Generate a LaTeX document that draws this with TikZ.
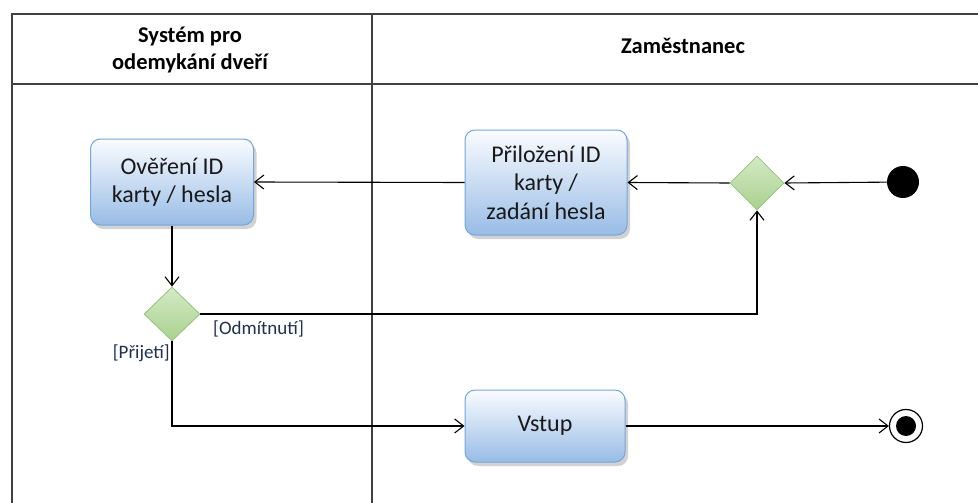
\documentclass[tikz,border=0pt]{standalone}
\usepackage{fontspec}
\setmainfont{Carlito}
\usetikzlibrary{arrows.meta,shapes.geometric,shadows}
\definecolor{frameline}{HTML}{404040}
\definecolor{boxtop}{HTML}{FAFCFF}
\definecolor{boxbottom}{HTML}{98BCE6}
\definecolor{boxedge}{HTML}{74A6DA}
\definecolor{dectop}{HTML}{D4EAC6}
\definecolor{decbottom}{HTML}{A9D18E}
\definecolor{decedge}{HTML}{93C47D}
\definecolor{guardtext}{HTML}{1F3050}
\tikzset{
  action/.style={rectangle, rounded corners=10pt, draw=boxedge, line width=1pt,
    top color=boxtop, bottom color=boxbottom, align=center, text=black!90,
    font=\fontsize{24}{28.5}\selectfont, inner sep=2pt,
    drop shadow={opacity=0.35, shadow xshift=3pt, shadow yshift=-4pt}},
  decision/.style={diamond, draw=decedge, line width=0.8pt,
    top color=dectop, bottom color=decbottom, inner sep=0pt, aspect=1},
  flow/.style={draw=black, line width=1.1pt, -{Straight Barb[length=9pt,width=14pt,line width=1.1pt]}},
  lane/.style={draw=frameline, line width=1.2pt},
  header/.style={font=\bfseries\fontsize{22.5}{27}\selectfont, align=center},
  guard/.style={font=\fontsize{19}{22}\selectfont, text=guardtext, inner sep=0pt}
}
\begin{document}
\begin{tikzpicture}[x=1pt,y=-1pt]
  \useasboundingbox (0,0) rectangle (978,503);
  \fill[white] (0,0) rectangle (978,503);

  % swimlane frame
  \draw[lane] (12,503) -- (12,14) -- (978,14);
  \draw[lane] (12,84) -- (978,84);
  \draw[lane] (372,14) -- (372,503);

  \node[header] (h1) at (190,50) {Systém pro\\odemykání dveří};
  \node[header] (h2) at (683,46) {Zaměstnanec};

  % activities
  \node[action, minimum width=163pt, minimum height=86pt] (ov) at (172,182) {Ověření ID\\karty / hesla};
  \node[action, minimum width=162pt, minimum height=105pt] (pr) at (546,182.5) {Přiložení ID\\karty /\\zadání hesla};
  \node[action, minimum width=160pt, minimum height=72pt] (vs) at (545,426) {Vstup};

  % decisions
  \node[decision, minimum width=54pt, minimum height=54pt] (d1) at (757,183) {};
  \node[decision, minimum width=56pt, minimum height=54pt] (d2) at (172,314) {};

  % initial and final nodes
  \node[circle, fill=black, minimum size=32pt, inner sep=0pt] (start) at (903,182) {};
  \node[circle, draw=black, line width=1.2pt, fill=white, minimum size=33pt, inner sep=0pt] (end) at (906,426) {};
  \node[circle, fill=black, minimum size=20pt, inner sep=0pt] (endin) at (906,426) {};

  % control flow
  \draw[flow] (start) -- (d1.east);
  \draw[flow] (d1.west) -- (pr.east);
  \draw[flow] (pr.west) -- (ov.east);
  \draw[flow] (ov.south) -- (d2.north);
  \draw[flow] (d2.east) -| (d1.south);
  \draw[flow] (d2.south) |- (vs.west);
  \draw[flow] (vs.east) -- (end.west);

  % guards
  \node[guard, anchor=west] (g1) at (213,329) {[Odmítnutí]};
  \node[guard, anchor=east] (g2) at (170,353) {[Přijetí]};
\end{tikzpicture}
\end{document}
